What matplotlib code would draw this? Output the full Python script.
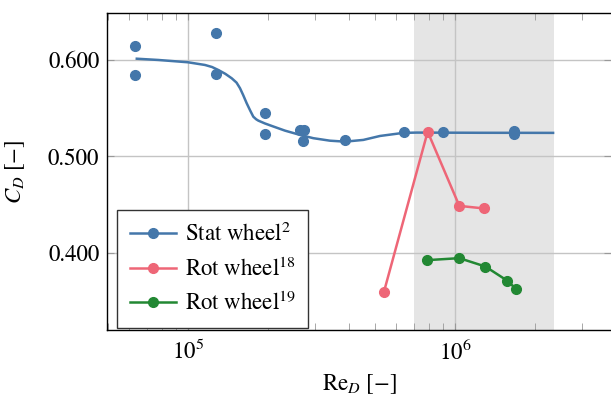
import numpy as np
import matplotlib
matplotlib.use("Agg")
import matplotlib.pyplot as plt

# ---- data ----
stat_re = [6.33e4, 6.33e4, 1.27e5, 1.27e5, 1.94e5, 1.94e5, 2.62e5, 2.72e5, 2.70e5,
           3.87e5, 6.44e5, 9.02e5, 1.66e6, 1.66e6]
stat_cd = [0.6145, 0.5845, 0.628, 0.585, 0.545, 0.523, 0.527, 0.5275, 0.5155,
           0.517, 0.525, 0.525, 0.526, 0.523]

fit_re = [6.43e4, 7.74e4, 1.0e5, 1.158e5, 1.23e5, 1.299e5, 1.38e5, 1.458e5, 1.52e5,
          1.566e5, 1.61e5, 1.659e5, 1.71e5, 1.756e5, 1.80e5, 1.834e5, 1.94e5, 2.059e5,
          2.309e5, 2.627e5, 2.946e5, 3.40e5, 3.873e5, 4.536e5, 5.238e5,
          6.403e5, 7.188e5, 1.24e6, 2.33e6]
fit_cd = [0.6013, 0.600, 0.5976, 0.5948, 0.5927, 0.5896, 0.5856, 0.5810, 0.5765,
          0.5707, 0.5635, 0.5551, 0.5475, 0.5412, 0.5385, 0.5371, 0.5342, 0.5316,
          0.5267, 0.5223, 0.5189, 0.5163, 0.5153, 0.5171, 0.5212,
          0.5244, 0.5247, 0.5245, 0.5244]

rot18_re = [5.41e5, 7.9e5, 1.038e6, 1.288e6]
rot18_cd = [0.3589, 0.5256, 0.4487, 0.446]

rot19_re = [7.84e5, 1.038e6, 1.30e6, 1.566e6, 1.696e6]
rot19_cd = [0.3924, 0.3945, 0.3858, 0.3713, 0.3624]

band = [7.0e5, 2.35e6]

yticks = [0.4, 0.5, 0.6]
ytick_labels = ["0.400", "0.500", "0.600"]

# ---- style ----
plt.rcParams["font.family"] = ["STIXGeneral", "DejaVu Serif"]
plt.rcParams["mathtext.fontset"] = "stix"
FS = 16.5
LFS = 16.5

blue = "#4477AA"
pink = "#EE6677"
green = "#228833"

fig = plt.figure(figsize=(6.11, 3.97), dpi=100)
ax = fig.add_axes([107 / 611, 1 - 330 / 397, 504 / 611, 317 / 397])

ax.set_xscale("log")
ax.set_xlim(10 ** (5 - 81 / 267), 10 ** (6 + 156 / 267))
ax.set_ylim(0.32, 0.6487)

ax.axvspan(band[0], band[1], color="#e5e5e5", zorder=0, lw=0)
ax.grid(True, which="major", color="#c4c4c4", lw=1.0, zorder=1)
ax.set_axisbelow(True)

ms = 7
lw = 1.8
ax.plot(fit_re, fit_cd, color=blue, lw=lw, zorder=3, solid_joinstyle="round")
ax.plot(stat_re, stat_cd, "o", color=blue, ms=ms, zorder=4)
ax.plot([], [], "-o", color=blue, lw=lw, ms=ms, label=r"Stat wheel$^{2}$")
ax.plot(rot18_re, rot18_cd, "-o", color=pink, lw=lw, ms=ms, zorder=4,
        label=r"Rot wheel$^{18}$")
ax.plot(rot19_re, rot19_cd, "-o", color=green, lw=lw, ms=ms, zorder=4,
        label=r"Rot wheel$^{19}$")

ax.set_yticks(yticks)
ax.set_yticklabels(ytick_labels)
ax.tick_params(axis="both", which="both", direction="in", top=True, right=True,
               labelsize=FS, color="#999999")
ax.tick_params(axis="both", which="major", length=5)
ax.tick_params(axis="x", which="minor", length=5)
ax.tick_params(axis="x", which="major", pad=7)
ax.tick_params(axis="y", which="major", pad=5.5)

for s in ["left", "bottom", "top"]:
    ax.spines[s].set_linewidth(1.0)
    ax.spines[s].set_color("black")
ax.spines["right"].set_visible(False)

ax.set_xlabel(r"$\mathrm{Re}_D\ [-]$", fontsize=FS, labelpad=5)
ax.set_ylabel(r"$C_D\ [-]$", fontsize=FS, labelpad=15)

leg = ax.legend(loc="lower left", bbox_to_anchor=(0.02, 0.006), borderaxespad=0,
                fontsize=LFS, frameon=True, fancybox=False, handlelength=2.0,
                handletextpad=0.4, labelspacing=0.5, borderpad=0.55)
leg.get_frame().set_edgecolor("#333333")
leg.get_frame().set_linewidth(1.0)
leg.get_frame().set_alpha(1)

fig.savefig("out.png", dpi=100)
